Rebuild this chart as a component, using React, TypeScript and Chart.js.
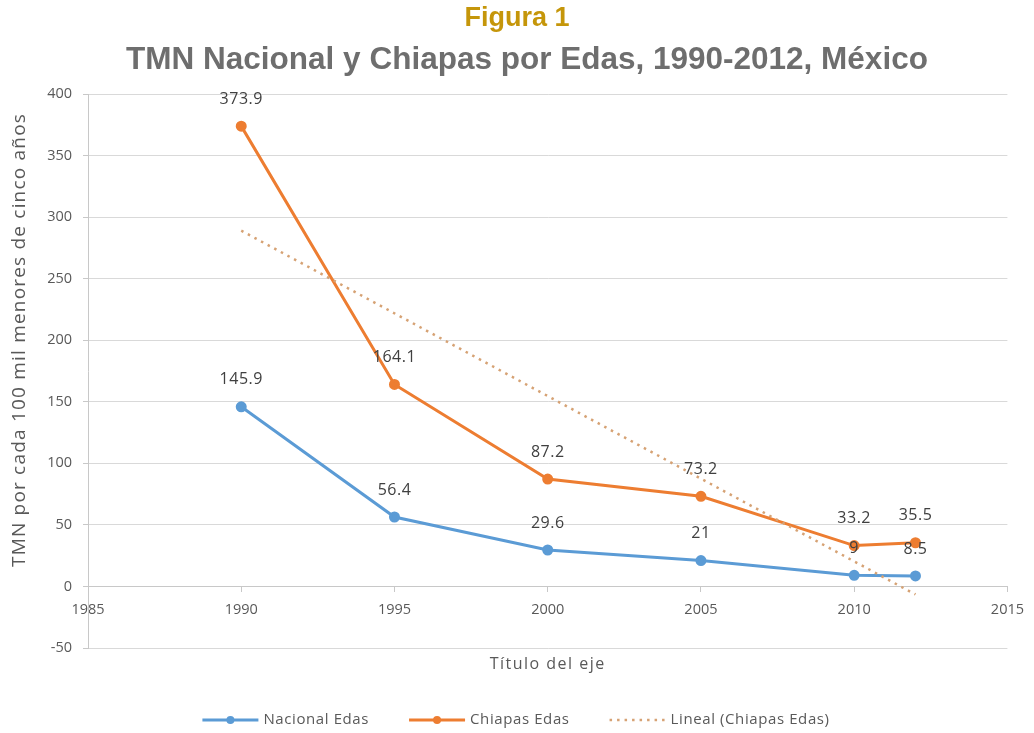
import React, { useEffect, useRef } from "react";
import { Chart, registerables } from "chart.js";

Chart.register(...registerables);

const years = [1990, 1995, 2000, 2005, 2010, 2012];
const nacional = [145.9, 56.4, 29.6, 21, 9, 8.5];
const chiapas = [373.9, 164.1, 87.2, 73.2, 33.2, 35.5];
const trendYears = [1990, 2012];
const trendValues = [289, -6.5];
const seriesNames = ["Nacional Edas", "Chiapas Edas", "Lineal (Chiapas Edas)"];
const titleText = "Figura 1";
const subtitleText = "TMN Nacional y Chiapas por Edas, 1990-2012, México";
const yAxisTitle = "TMN por cada 100 mil menores de cinco años";
const xAxisTitle = "Título del eje";
const xTicks = { min: 1985, max: 2015, step: 5 };
const yTicks = { min: -50, max: 400, step: 50 };

const BLUE = "#5B9BD5";
const ORANGE = "#ED7D31";
const TREND = "#D6A274";
const TEXT = "#595959";
const LABEL = "#404040";
const GRID = "#D9D9D9";
const AXIS = "#C8C8C8";
const FONT = "'Open Sans', 'Noto Sans', sans-serif";

function setSpacing(ctx: any, px: number) {
  if ("letterSpacing" in ctx) ctx.letterSpacing = `${px}px`;
}

const overlayPlugin = {
  id: "overlay",
  afterDraw(chart: any) {
    const ctx = chart.ctx as CanvasRenderingContext2D;
    const area = chart.chartArea;
    ctx.save();
    // Titles
    ctx.textAlign = "center";
    ctx.textBaseline = "middle";
    ctx.fillStyle = "#C5960A";
    ctx.font = "bold 27px 'Liberation Sans', Arial, sans-serif";
    ctx.fillText(titleText, 517, 19);
    ctx.fillStyle = "#6E6E6E";
    ctx.font = "bold 31.5px 'Liberation Sans', Arial, sans-serif";
    ctx.fillText(subtitleText, 527, 60);

    // Data labels
    ctx.font = `16px ${FONT}`;
    setSpacing(ctx, 0.5);
    ctx.fillStyle = LABEL;
    [0, 1].forEach((di) => {
      const meta = chart.getDatasetMeta(di);
      const ds = chart.data.datasets[di];
      meta.data.forEach((pt: any, j: number) => {
        const v = (ds.data[j] as any).y;
        ctx.fillText(String(v), pt.x, pt.y - 27);
      });
    });

    // Axis titles
    ctx.fillStyle = TEXT;
    ctx.font = `16px ${FONT}`;
    setSpacing(ctx, 1.5);
    ctx.fillText(xAxisTitle, (area.left + area.right) / 2, area.bottom + 16);
    ctx.save();
    ctx.font = `19px ${FONT}`;
    setSpacing(ctx, 1.2);
    ctx.translate(20, 340);
    ctx.rotate(-Math.PI / 2);
    ctx.fillText(yAxisTitle, 0, 0);
    ctx.restore();

    // Legend
    ctx.font = `15px ${FONT}`;
    setSpacing(ctx, 0.6);
    const lineW = 56;
    const gapText = 5;
    const gapItem = 40;
    const items = chart.data.datasets.map((ds: any) => ({
      ds,
      tw: ctx.measureText(ds.label).width,
    }));
    const total =
      items.reduce((s: number, it: any) => s + lineW + gapText + it.tw, 0) +
      gapItem * (items.length - 1);
    let x = 516 - total / 2;
    const ly = 720;
    items.forEach((it: any) => {
      const ds = it.ds;
      ctx.save();
      ctx.strokeStyle = ds.borderColor;
      ctx.lineWidth = ds.borderWidth;
      ctx.setLineDash(ds.borderDash || []);
      ctx.beginPath();
      ctx.moveTo(x, ly);
      ctx.lineTo(x + lineW, ly);
      ctx.stroke();
      ctx.setLineDash([]);
      if (ds.pointRadius > 0) {
        ctx.fillStyle = ds.borderColor;
        ctx.beginPath();
        ctx.arc(x + lineW / 2, ly, ds.pointRadius, 0, Math.PI * 2);
        ctx.fill();
      }
      ctx.restore();
      ctx.fillStyle = TEXT;
      ctx.textAlign = "left";
      ctx.fillText(ds.label, x + lineW + gapText, ly);
      x += lineW + gapText + it.tw + gapItem;
    });
    ctx.restore();
  },
};

export default function App() {
  const ref = useRef<HTMLCanvasElement | null>(null);
  useEffect(() => {
    if (!ref.current) return;
    Chart.defaults.font.family = FONT;
    const chart = new Chart(ref.current, {
      type: "line",
      data: {
        datasets: [
          {
            label: seriesNames[0],
            data: years.map((x, i) => ({ x, y: nacional[i] })),
            borderColor: BLUE,
            backgroundColor: BLUE,
            pointBackgroundColor: BLUE,
            pointBorderColor: BLUE,
            borderWidth: 3,
            pointRadius: 4,
            tension: 0,
          },
          {
            label: seriesNames[1],
            data: years.map((x, i) => ({ x, y: chiapas[i] })),
            borderColor: ORANGE,
            backgroundColor: ORANGE,
            pointBackgroundColor: ORANGE,
            pointBorderColor: ORANGE,
            borderWidth: 3,
            pointRadius: 4,
            tension: 0,
          },
          {
            label: seriesNames[2],
            data: trendYears.map((x, i) => ({ x, y: trendValues[i] })),
            borderColor: TREND,
            backgroundColor: TREND,
            borderWidth: 2.5,
            borderDash: [2.5, 5],
            pointRadius: 0,
            tension: 0,
            order: -1,
          } as any,
        ],
      },
      options: {
        responsive: false,
        animation: false,
        events: [],
        layout: { padding: { top: 94, left: 0, right: 22, bottom: 85 } },
        plugins: {
          legend: { display: false },
          title: { display: false },
          tooltip: { enabled: false },
        },
        scales: {
          x: {
            type: "linear",
            position: { y: 0 } as any,
            min: xTicks.min,
            max: xTicks.max,
            ticks: {
              stepSize: xTicks.step,
              color: TEXT,
              font: { size: 14.5, family: FONT },
              padding: 10,
              maxRotation: 0,
              callback: (v: any) => String(v),
            },
            grid: {
              drawOnChartArea: false,
              drawTicks: true,
              tickLength: 5,
              color: AXIS,
            },
            border: { display: true, color: AXIS, width: 1 },
          },
          y: {
            type: "linear",
            min: yTicks.min,
            max: yTicks.max,
            afterFit: (scale: any) => {
              scale.width = 88;
            },
            ticks: {
              stepSize: yTicks.step,
              color: TEXT,
              font: { size: 14.5, family: FONT },
              padding: 11,
            },
            grid: {
              color: GRID,
              drawTicks: true,
              tickLength: 5,
              tickColor: AXIS,
            },
            border: { display: true, color: AXIS, width: 1 },
          },
        },
      },
      plugins: [overlayPlugin],
    });
    return () => chart.destroy();
  }, []);
  return (
    <div style={{ position: "absolute", left: 0, top: 0, width: 1034, height: 733, background: "#fff" }}>
      <canvas ref={ref} width={1034} height={733} style={{ display: "block" }} />
    </div>
  );
}
